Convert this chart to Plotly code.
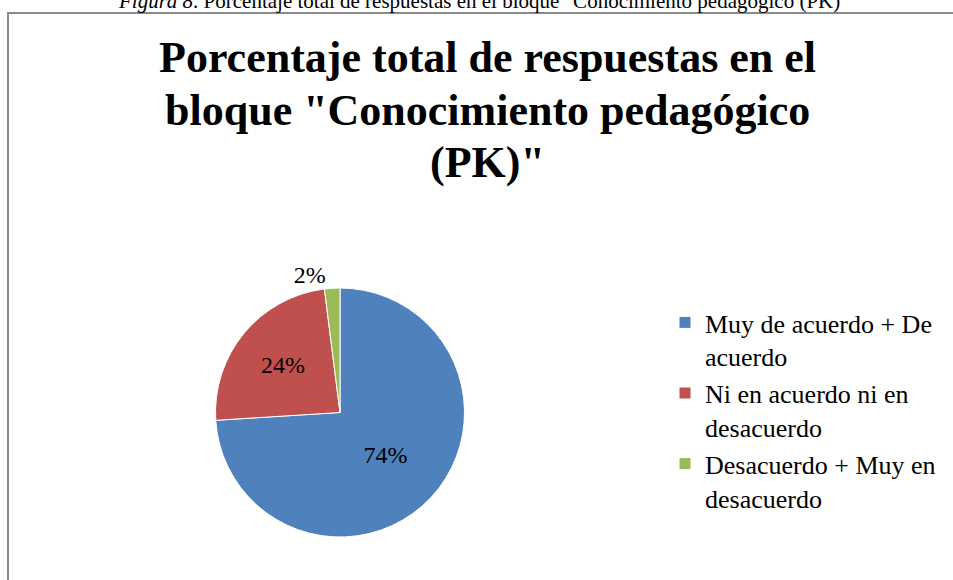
import plotly.graph_objects as go

# Datos del gráfico
categorias = [
    "Muy de acuerdo + De<br>acuerdo",
    "Ni en acuerdo ni en<br>desacuerdo",
    "Desacuerdo + Muy en<br>desacuerdo",
]
porcentajes = [74, 24, 2]
colores = ["#4F81BD", "#C0504D", "#9BBB59"]
posiciones_texto = ["inside", "inside", "outside"]

titulo_lineas = [
    "Porcentaje total de respuestas en el",
    'bloque "Conocimiento pedagógico',
    '(PK)"',
]
pie_figura = '<i>Figura 8</i>. Porcentaje total de respuestas en el bloque "Conocimiento pedagógico (PK)"'

W, H = 953, 580

fig = go.Figure()
fig.add_trace(go.Pie(
    labels=categorias,
    values=porcentajes,
    sort=False,
    direction="clockwise",
    rotation=0,
    textinfo="percent",
    textposition=posiciones_texto,
    insidetextorientation="horizontal",
    textfont=dict(family="Liberation Serif", size=24, color="black"),
    marker=dict(colors=colores, line=dict(color="white", width=1)),
    domain=dict(x=[215 / W, 465 / W], y=[1 - 537 / H, 1 - 288 / H]),
    hoverinfo="label+percent",
))

fig.update_layout(
    width=W,
    height=H,
    margin=dict(l=0, r=0, t=0, b=0),
    paper_bgcolor="white",
    plot_bgcolor="white",
    legend=dict(
        x=665 / W,
        xanchor="left",
        y=1 - 299 / H,
        yanchor="top",
        font=dict(family="Liberation Serif", size=26, color="black"),
        valign="top",
        bgcolor="rgba(0,0,0,0)",
    ),
    showlegend=True,
)

# título en tres líneas (interlineado amplio como en el original)
for linea, yc in zip(titulo_lineas, [58, 110, 163]):
    fig.add_annotation(
        text=f"<b>{linea}</b>",
        xref="paper", yref="paper",
        x=487.5 / W, y=1 - yc / H,
        xanchor="center", yanchor="middle",
        showarrow=False,
        font=dict(family="Liberation Serif", size=44, color="black"),
    )

# pie de figura (cortado arriba en la imagen original)
fig.add_annotation(
    text=pie_figura,
    xref="paper", yref="paper",
    x=483 / W, y=1 - 1 / H,
    xanchor="center", yanchor="middle",
    showarrow=False,
    font=dict(family="Liberation Serif", size=21, color="black"),
)

# marco del área del gráfico
fig.add_shape(
    type="rect", xref="paper", yref="paper",
    x0=8 / W, x1=1.05, y0=-0.05, y1=1 - 13 / H,
    line=dict(color="#8a8a8a", width=2),
    fillcolor="rgba(0,0,0,0)",
    layer="below",
)

fig.write_html(
    "out.html",
    config={"displayModeBar": False},
    post_script="document.body.style.margin='0';",
)
